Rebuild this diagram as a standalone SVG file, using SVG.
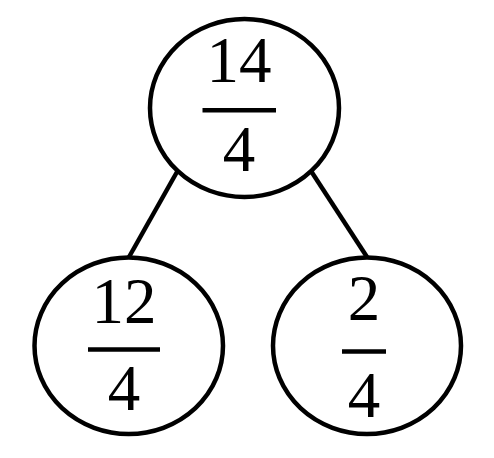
<svg xmlns="http://www.w3.org/2000/svg" width="494" height="458" viewBox="0 0 494 458">
  <style>
    .node { fill: #ffffff; stroke: #000000; stroke-width: 4.5; }
    .bar { stroke: #000000; stroke-width: 4.5; }
    .edge { stroke: #000000; stroke-width: 4.5; fill: none; }
    .t { font-family: "Liberation Serif", "Times New Roman", serif; font-size: 65px; fill: #000000; text-anchor: middle; }
  </style>
  <rect width="494" height="458" fill="#ffffff"/>
  <g id="connectors">
    <line class="edge" x1="177.5" y1="171" x2="129" y2="257"/>
    <line class="edge" x1="311" y1="171" x2="367" y2="257"/>
  </g>
  <g id="node-root">
    <ellipse class="node" cx="244.5" cy="108" rx="94.5" ry="89"/>
    <text class="t" x="239" y="82">14</text>
    <line class="bar" x1="202.5" y1="110.3" x2="276" y2="110.3"/>
    <text class="t" x="239" y="171">4</text>
  </g>
  <g id="node-left">
    <ellipse class="node" cx="128.75" cy="345.75" rx="94.25" ry="88.25"/>
    <text class="t" x="124" y="323">12</text>
    <line class="bar" x1="88" y1="349.5" x2="160" y2="349.5"/>
    <text class="t" x="124" y="410">4</text>
  </g>
  <g id="node-right">
    <ellipse class="node" cx="367" cy="345.75" rx="94" ry="88.25"/>
    <text class="t" x="364" y="320">2</text>
    <line class="bar" x1="342" y1="351.5" x2="386" y2="351.5"/>
    <text class="t" x="364" y="417">4</text>
  </g>
</svg>
